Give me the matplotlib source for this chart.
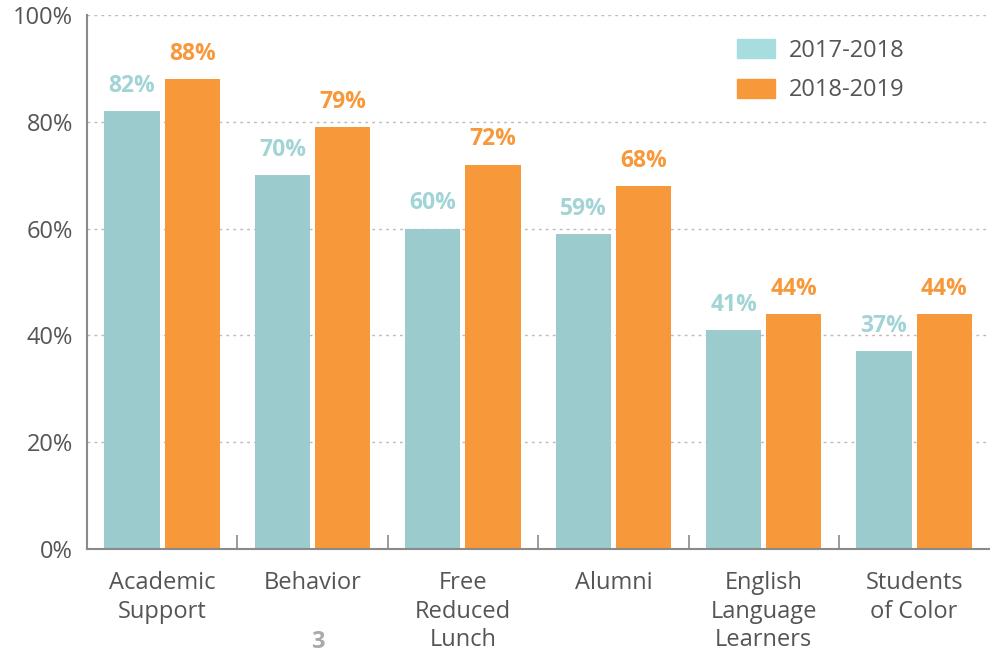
import numpy as np
import matplotlib.pyplot as plt

plt.rcParams['font.family'] = ['Open Sans', 'DejaVu Sans']

categories = ["Academic\nSupport", "Behavior", "Free\nReduced\nLunch", "Alumni",
              "English\nLanguage\nLearners", "Students\nof Color"]
y2017 = [82, 70, 60, 59, 41, 37]
y2018 = [88, 79, 72, 68, 44, 44]
series_labels = ["2017-2018", "2018-2019"]

TEAL = "#9BCBCC"
TEAL_LEG = "#A8DDE0"
TEAL_TXT = "#A2D4D6"
ORANGE = "#F7993A"
GRAY = "#555555"
AXIS = "#8a8a8a"

fig = plt.figure(figsize=(9.96, 6.56), dpi=100)
ax = fig.add_axes([0.0873, 0.163, 0.906, 0.814])

x = np.arange(len(categories))
w = 0.367
ax.bar(x - 0.2, y2017, w, color=TEAL, zorder=3)
ax.bar(x + 0.2, y2018, w, color=ORANGE, zorder=3)

for xi, v in zip(x, y2017):
    ax.text(xi - 0.2, v + 2.5, f"{v}%", ha="center", va="bottom",
            color=TEAL_TXT, fontsize=16.5, fontweight="bold")
for xi, v in zip(x, y2018):
    ax.text(xi + 0.2, v + 2.5, f"{v}%", ha="center", va="bottom",
            color=ORANGE, fontsize=16.5, fontweight="bold")

ax.set_xlim(-0.5, len(categories) - 0.5)
ax.set_ylim(0, 100)
ax.set_yticks(range(0, 101, 20))
ax.set_yticklabels([f"{t}%" for t in range(0, 101, 20)])
ax.set_xticks(x)
ax.set_xticklabels(categories, linespacing=1.25)
ax.set_xticks(np.arange(0.5, len(categories) - 0.5), minor=True)

ax.tick_params(axis="y", length=0, labelsize=17, labelcolor=GRAY, pad=10)
ax.tick_params(axis="x", which="major", length=0, labelsize=17, labelcolor=GRAY, pad=16)
ax.tick_params(axis="x", which="minor", direction="in", length=10, color=AXIS, width=1.2)

ax.grid(axis="y", linestyle=(0, (2, 3)), color="#bbbbbb", linewidth=1, zorder=0)
for s in ["top", "right"]:
    ax.spines[s].set_visible(False)
for s in ["left", "bottom"]:
    ax.spines[s].set_color(AXIS)
    ax.spines[s].set_linewidth(1.5)
    ax.spines[s].set_zorder(4)

h1 = plt.Rectangle((0, 0), 1, 1, color=TEAL_LEG)
h2 = plt.Rectangle((0, 0), 1, 1, color=ORANGE)
leg = ax.legend([h1, h2], series_labels, loc="upper left", bbox_to_anchor=(0.697, 0.995),
                frameon=False, fontsize=17, handlelength=1.6, handleheight=0.85,
                labelspacing=0.65, handletextpad=0.6)
for t in leg.get_texts():
    t.set_color(GRAY)

fig.text(0.319, 0.022, "3", ha="center", va="center", fontsize=17,
         fontweight="bold", color="#aaaaaa")

fig.savefig("out.png", dpi=100)
